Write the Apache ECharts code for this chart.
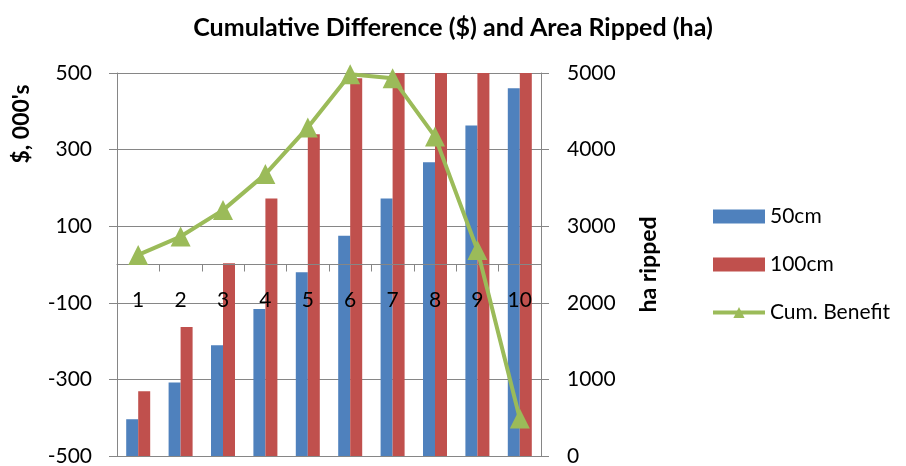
<!DOCTYPE html>
<html>
<head>
<meta charset="utf-8">
<script src="https://cdn.jsdelivr.net/npm/echarts@6/dist/echarts.min.js"></script>
<style>
  html, body { margin: 0; padding: 0; background: #fff; }
  #chart { width: 906px; height: 466px; }
</style>
</head>
<body>
<div id="chart"></div>
<script>
// Years of the ripping program
const categories = ['1', '2', '3', '4', '5', '6', '7', '8', '9', '10'];
// Area ripped (ha) per year
const ripped50cm = [480, 960, 1445, 1920, 2400, 2875, 3360, 3835, 4315, 4800];
const ripped100cm = [845, 1685, 2515, 3360, 4200, 4930, 5000, 5000, 5000, 5000];
// Cumulative benefit ($ 000's)
const cumBenefit = [25, 73, 142, 236, 358, 497, 486, 334, 38, -402];
// Tick labels
const dollarTicks = [-500, -300, -100, 100, 300, 500];

const FONT = 'Lato';
const GREY = '#868686';

// Plot box
const GRID_TOP = 73;
const GRID_BOTTOM = 10;
const PLOT_H = 466 - GRID_TOP - GRID_BOTTOM;

const chart = echarts.init(document.getElementById('chart'), null, { renderer: 'canvas' });

chart.setOption({
  animation: false,
  textStyle: { fontFamily: FONT, color: '#000' },
  title: {
    text: 'Cumulative Difference ($) and Area Ripped (ha)',
    left: 'center',
    top: 10,
    textStyle: { fontFamily: FONT, fontSize: 25, fontWeight: 'bold', color: '#000' }
  },
  grid: { left: 117, right: 365, top: GRID_TOP, bottom: GRID_BOTTOM, containLabel: false, outerBoundsMode: 'none' },
  legend: {
    orient: 'vertical',
    left: 706,
    top: 201,
    itemWidth: 52,
    itemHeight: 14,
    itemGap: 27,
    textStyle: { fontFamily: FONT, fontSize: 21, color: '#000' },
    data: [
      { name: '50cm', icon: 'rect' },
      { name: '100cm', icon: 'rect' },
      { name: 'Cum. Benefit', lineStyle: { width: 4 } }
    ]
  },
  graphic: [{
    type: 'text',
    x: 10,
    y: 124,
    rotation: Math.PI / 2,
    style: {
      text: "$, 000's",
      font: 'bold 23px ' + FONT,
      fill: '#000',
      align: 'center',
      verticalAlign: 'top'
    }
  }],
  xAxis: {
    type: 'category',
    data: categories,
    boundaryGap: true,
    position: 'bottom',
    // the category axis sits on the $0 line of the left axis
    offset: -PLOT_H / 2,
    z: 4,
    axisLine: { onZero: false, lineStyle: { color: GREY, width: 1 } },
    axisTick: { show: true, length: 7, lineStyle: { color: GREY } },
    axisLabel: { margin: 25, fontSize: 21, fontFamily: FONT, color: '#000' },
    splitLine: { show: false }
  },
  yAxis: [
    {
      type: 'value',
      position: 'left',
      min: -500,
      max: 500,
      interval: 100,
      axisLine: { show: true, onZero: false, lineStyle: { color: GREY, width: 1 } },
      axisTick: { show: true, length: 8, customValues: dollarTicks, lineStyle: { color: GREY } },
      axisLabel: { margin: 25, fontSize: 21, fontFamily: FONT, color: '#000', customValues: dollarTicks },
      splitLine: { show: false }
    },
    {
      type: 'value',
      position: 'right',
      min: 0,
      max: 5000,
      interval: 1000,
      name: 'ha ripped',
      nameLocation: 'middle',
      nameRotate: 90,
      nameGap: 96,
      nameTextStyle: { fontFamily: FONT, fontSize: 23, fontWeight: 'bold', color: '#000' },
      axisLine: { show: true, onZero: false, lineStyle: { color: GREY, width: 1 } },
      axisTick: { show: true, length: 8, lineStyle: { color: GREY } },
      axisLabel: { margin: 26, fontSize: 21, fontFamily: FONT, color: '#000', formatter: v => String(v) },
      splitLine: { show: true, lineStyle: { color: GREY, width: 1 } }
    }
  ],
  series: [
    {
      name: '50cm',
      type: 'bar',
      yAxisIndex: 1,
      data: ripped50cm,
      barWidth: 12,
      barGap: '0%',
      itemStyle: { color: '#4F81BD' }
    },
    {
      name: '100cm',
      type: 'bar',
      yAxisIndex: 1,
      data: ripped100cm,
      barWidth: 12,
      barGap: '0%',
      itemStyle: { color: '#C0504D' }
    },
    {
      name: 'Cum. Benefit',
      type: 'line',
      yAxisIndex: 0,
      data: cumBenefit,
      symbol: 'triangle',
      symbolSize: [20, 20],
      lineStyle: { color: '#9BBB59', width: 4 },
      itemStyle: { color: '#9BBB59' },
      z: 5
    }
  ]
});
</script>
</body>
</html>
